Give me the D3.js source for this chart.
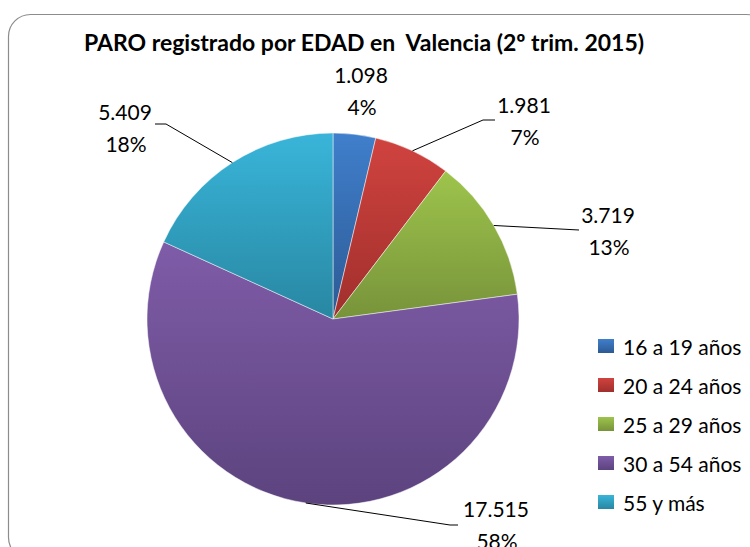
<!DOCTYPE html>
<html>
<head>
<meta charset="utf-8">
<script src="https://cdn.jsdelivr.net/npm/d3@7"></script>
<style>
  html, body { margin: 0; padding: 0; background: #fff; }
  svg { display: block; font-family: Lato, 'Open Sans', sans-serif; }
</style>
</head>
<body>
<script>
// datos: paro registrado por edad, Valencia 2º trim. 2015
const categories = ['16 a 19 años', '20 a 24 años', '25 a 29 años', '30 a 54 años', '55 y más']
const values = [1098, 1981, 3719, 17515, 5409]
const valueLabels = ['1.098', '1.981', '3.719', '17.515', '5.409']
const percentLabels = ['4%', '7%', '13%', '58%', '18%']

const colorsTop = ['#407fcc', '#d0433f', '#9ec44c', '#7f5ca8', '#39b5d9']
const colorsBottom = ['#2c5a94', '#a02f2c', '#77933a', '#5c437e', '#2887a2']

// where each label sits (center / baseline of the value line) and the leader line bend
const labelPos = [
  { x: 361, y: 83, bend: null },
  { x: 524, y: 113, bend: [[483, 120], [495, 120]] },
  { x: 608, y: 223, bend: [[579, 230]] },
  { x: 496, y: 517, bend: [[450, 525], [458, 525]] },
  { x: 125, y: 120, bend: [[166, 124], [155, 124]] }
]

const width = 750
const height = 547
const cx = 333
const cy = 319
const radius = 186

const svg = d3.select('body').append('svg')
  .attr('width', width)
  .attr('height', height)

const defs = svg.append('defs')
colorsTop.forEach((c, i) => {
  const g = defs.append('linearGradient')
    .attr('id', 'grad' + i)
    .attr('x1', 0).attr('y1', 0).attr('x2', 0).attr('y2', 1)
  g.append('stop').attr('offset', '0%').attr('stop-color', c)
  g.append('stop').attr('offset', '100%').attr('stop-color', colorsBottom[i])
})

// chart frame
svg.append('rect')
  .attr('x', 8.5).attr('y', 14.5)
  .attr('width', 760).attr('height', 545)
  .attr('rx', 22).attr('ry', 22)
  .attr('fill', '#fff')
  .attr('stroke', '#8c8c8c')
  .attr('stroke-width', 1.2)

svg.append('text')
  .attr('x', 364)
  .attr('y', 51)
  .attr('text-anchor', 'middle')
  .attr('font-weight', 'bold')
  .attr('font-size', 23)
  .attr('fill', '#000')
  .style('white-space', 'pre')
  .text('PARO registrado por EDAD en  Valencia (2º trim. 2015)')

const pie = d3.pie().sort(null).value(d => d)
const arcs = pie(values)
const arc = d3.arc().innerRadius(0).outerRadius(radius)

const g = svg.append('g').attr('transform', `translate(${cx},${cy})`)

g.selectAll('path')
  .data(arcs)
  .join('path')
  .attr('d', arc)
  .attr('fill', (d, i) => `url(#grad${i})`)
  .attr('stroke', '#fff')
  .attr('stroke-opacity', 0.6)
  .attr('stroke-width', 0.8)

// leader lines
arcs.forEach((d, i) => {
  const p = labelPos[i]
  if (!p.bend) return
  const mid = (d.startAngle + d.endAngle) / 2
  const start = [cx + radius * Math.sin(mid), cy - radius * Math.cos(mid)]
  svg.append('path')
    .attr('d', d3.line()([start, ...p.bend]))
    .attr('fill', 'none')
    .attr('stroke', '#000')
    .attr('stroke-width', 1)
})

const labels = svg.append('g')
  .attr('font-size', 21)
  .attr('text-anchor', 'middle')
  .attr('fill', '#000')

labels.selectAll('text.val')
  .data(arcs)
  .join('text')
  .attr('class', 'val')
  .attr('x', (d, i) => labelPos[i].x)
  .attr('y', (d, i) => labelPos[i].y)
  .text((d, i) => valueLabels[i])

labels.selectAll('text.pct')
  .data(arcs)
  .join('text')
  .attr('class', 'pct')
  .attr('x', (d, i) => labelPos[i].x + 1)
  .attr('y', (d, i) => labelPos[i].y + 32)
  .text((d, i) => percentLabels[i])

// legend
const legend = svg.append('g').attr('transform', 'translate(598,339)')
const row = legend.selectAll('g')
  .data(categories)
  .join('g')
  .attr('transform', (d, i) => `translate(0,${i * 39})`)

row.append('rect')
  .attr('width', 16).attr('height', 14)
  .attr('fill', (d, i) => `url(#grad${i})`)

row.append('text')
  .attr('x', 25)
  .attr('y', 16)
  .attr('font-size', 21)
  .attr('fill', '#000')
  .text(d => d)
</script>
</body>
</html>
